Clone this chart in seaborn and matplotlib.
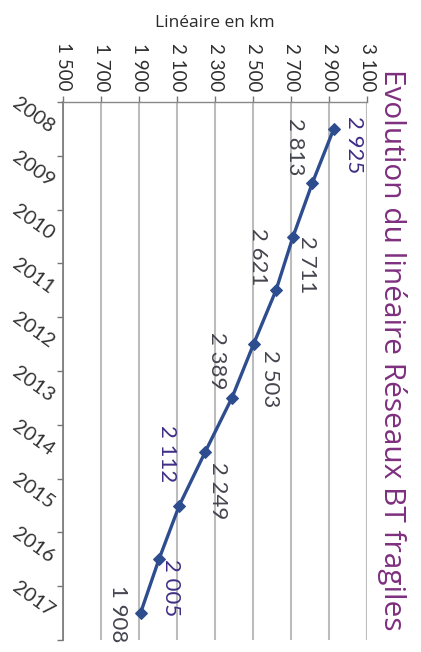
import matplotlib
matplotlib.use("Agg")
import matplotlib.pyplot as plt
import seaborn as sns
import pandas as pd
import numpy as np
from matplotlib.ticker import FixedLocator, FuncFormatter

# Data: length of fragile low-voltage network (km) per year
years = [2008, 2009, 2010, 2011, 2012, 2013, 2014, 2015, 2016, 2017]
km = [2925, 2813, 2711, 2621, 2503, 2389, 2249, 2112, 2005, 1908]
km_ticks = [1500, 1700, 1900, 2100, 2300, 2500, 2700, 2900, 3100]

title = "Evolution du linéaire Réseaux BT fragiles"
axis_label = "Linéaire en km"

# Label offsets (pixels, right / down) relative to each point
label_dx = [20, -17, 14, -18, 16, -15, 13, -12, 12, -23]
label_dy = [16, -36, 28, -34, 35, -37, 39, -52, 28, 1]
label_colors = ["#3f2e85", "#45454f", "#45454f", "#45454f", "#45454f",
                "#45454f", "#45454f", "#3f2e85", "#3f2e85", "#45454f"]

df = pd.DataFrame({"year": years, "km": km})

sns.set_theme(style="white")
plt.rcParams["font.family"] = ["Lato", "DejaVu Sans"]

W, H, DPI = 421, 652, 100
fig = plt.figure(figsize=(W / DPI, H / DPI), dpi=DPI, facecolor="white")
ax = fig.add_axes([63 / W, 1 - 640 / H, (367 - 63) / W, (640 - 102) / H])

sns.lineplot(data=df, x="km", y="year", sort=False, ax=ax, color="#2e4d8e",
             linewidth=2.4, marker="D", markersize=6.5,
             markeredgecolor="#2e4d8e", markerfacecolor="#2e4d8e")

ax.set_xlim(1500, 3100)
ax.set_ylim(2017.5, 2007.5)

# value axis along the top
ax.xaxis.set_ticks_position("top")
ax.xaxis.set_label_position("top")
ax.set_xticks(km_ticks)
ax.xaxis.set_major_formatter(FuncFormatter(lambda v, p: f"{int(v):,}".replace(",", " ")))
ax.tick_params(axis="x", which="major", direction="out", length=4, width=1,
               color="#777777", labelsize=13.5, labelcolor="#2e2e2e",
               pad=4, labelrotation=-90)
ax.set_xlabel(axis_label, fontsize=12.5, color="#2a2a2a", labelpad=11,
              family=["Open Sans", "DejaVu Sans"])

# year axis along the left
ax.set_yticks(years)
ax.yaxis.set_minor_locator(FixedLocator([y - 0.5 for y in years] + [years[-1] + 0.5]))
ax.tick_params(axis="y", which="major", length=0, labelsize=14.5,
               labelcolor="#333333", pad=8)
ax.tick_params(axis="y", which="minor", direction="out", length=4, width=1,
               color="#777777", left=True)
for lab in ax.get_yticklabels():
    lab.set_rotation(-36)
    lab.set_rotation_mode("anchor")
    lab.set_ha("right")
    lab.set_va("center")
ax.set_ylabel("")

ax.grid(axis="x", color="#bcbcbc", linewidth=1.5)
ax.grid(axis="y", visible=False)
for side in ["right", "bottom"]:
    ax.spines[side].set_visible(False)
ax.spines["left"].set_color("#777777")
ax.spines["left"].set_linewidth(1.2)
ax.spines["top"].set_color("#888888")
ax.spines["top"].set_linewidth(1.0)

# point labels
for y, v, dx, dy, c in zip(years, km, label_dx, label_dy, label_colors):
    ax.annotate(f"{v:,}".replace(",", " "), xy=(v, y), xytext=(dx, -dy),
                textcoords="offset pixels", rotation=-90, ha="center",
                va="center", fontsize=16, color=c)

fig.text(392 / W, 1 - 350 / H, title, rotation=-90, ha="center", va="center",
         fontsize=21.5, color="#7e2f7e", family=["Open Sans", "DejaVu Sans"])

fig.savefig("out.png", dpi=DPI, facecolor="white")
